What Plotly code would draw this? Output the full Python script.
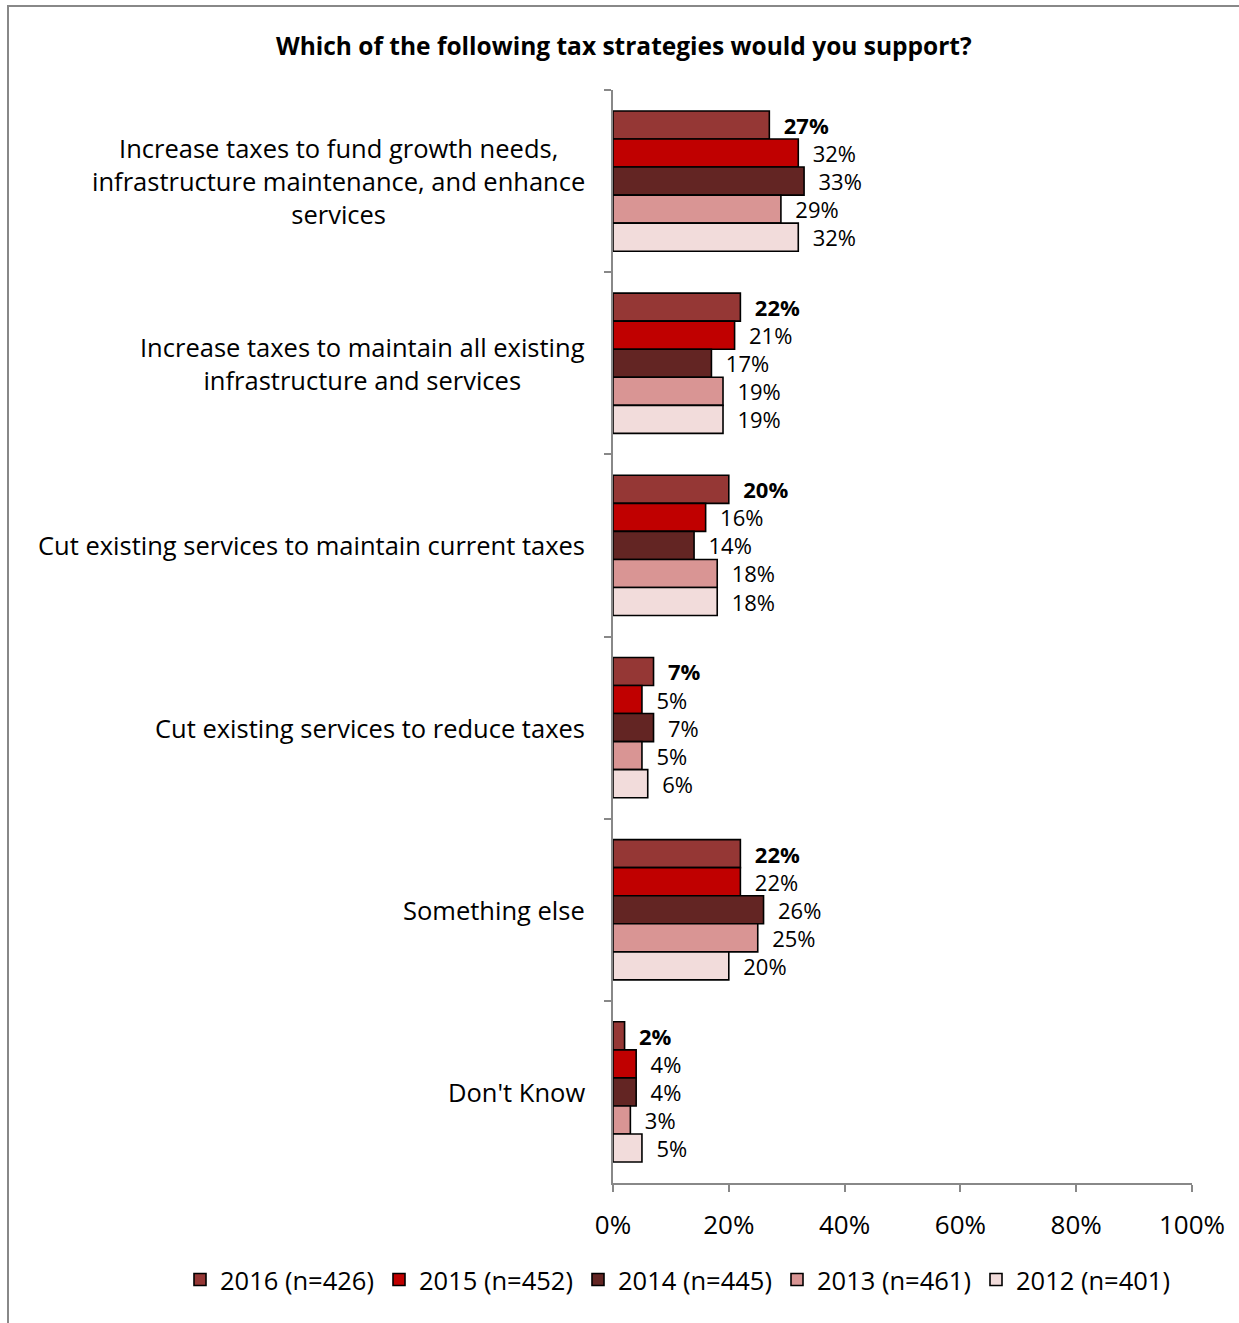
import plotly.graph_objects as go

# Survey categories (top to bottom) and their display labels
categories = [
    "fund_growth",
    "maintain_all",
    "cut_maintain",
    "cut_reduce",
    "something_else",
    "dont_know",
]
category_labels = [
    "Increase taxes to fund growth needs,<br>infrastructure maintenance, and enhance<br>services",
    "Increase taxes to maintain all existing<br>infrastructure and services",
    "Cut existing services to maintain current taxes",
    "Cut existing services to reduce taxes",
    "Something else",
    "Don't Know",
]

# Series names and percentages per survey year
series_names = ["2016 (n=426)", "2015 (n=452)", "2014 (n=445)", "2013 (n=461)", "2012 (n=401)"]
values_2016 = [27, 22, 20, 7, 22, 2]
values_2015 = [32, 21, 16, 5, 22, 4]
values_2014 = [33, 17, 14, 7, 26, 4]
values_2013 = [29, 19, 18, 5, 25, 3]
values_2012 = [32, 19, 18, 6, 20, 5]
series_values = [values_2016, values_2015, values_2014, values_2013, values_2012]
series_colors = ["#953735", "#C00000", "#632523", "#D99594", "#F2DCDB"]

FONT = "Open Sans"
W, H = 1239, 1323
L, R, T, B = 613, 1192, 90, 1183

fig = go.Figure()
for i, (name, vals, col) in enumerate(zip(series_names, series_values, series_colors)):
    if i == 0:
        labels = ["\u00a0\u00a0<b>%d%%</b>" % v for v in vals]
    else:
        labels = ["\u00a0\u00a0%d%%" % v for v in vals]
    fig.add_trace(go.Bar(
        y=categories,
        x=vals,
        name=name,
        orientation="h",
        marker=dict(color=col, line=dict(color="black", width=1.6)),
        text=labels,
        texttemplate="%{text}",
        textposition="outside",
        constraintext="none",
        textfont=dict(family=FONT, size=22, color="black"),
        cliponaxis=False,
    ))

# Category labels as centered multi-line annotations
for cat, lab in zip(categories, category_labels):
    fig.add_annotation(
        x=0, xref="paper", y=cat, yref="y",
        text=lab, showarrow=False,
        xanchor="right", yanchor="middle", align="center",
        xshift=-26,
        font=dict(family=FONT, size=25.5, color="black"),
    )

px = lambda x: (x - L) / (R - L)
py = lambda y: (B - y) / (B - T)

# Chart title
fig.add_annotation(
    x=px(624), xref="paper", y=py(45), yref="paper",
    text="<b>Which of the following tax strategies would you support?</b>",
    showarrow=False, xanchor="center", yanchor="middle",
    font=dict(family=FONT, size=24.5, color="black"),
)

# Outer frame lines (left and top)
fig.add_shape(type="line", xref="paper", yref="paper",
              x0=px(8), x1=px(8), y0=py(6), y1=py(1330),
              line=dict(color="#888888", width=2))
fig.add_shape(type="line", xref="paper", yref="paper",
              x0=px(7), x1=px(1245), y0=py(6), y1=py(6),
              line=dict(color="#888888", width=2))

fig.update_layout(
    width=W, height=H,
    margin=dict(l=L, r=W - R, t=T, b=H - B, pad=0, autoexpand=False),
    paper_bgcolor="white", plot_bgcolor="white",
    barmode="group", bargap=0.23, bargroupgap=0,
    font=dict(family=FONT, size=22, color="black"),
    showlegend=True,
    legend=dict(
        orientation="h", xref="paper", x=px(180), xanchor="left",
        yref="paper", y=py(1280), yanchor="middle",
        font=dict(family=FONT, size=25.5, color="black"),
        itemwidth=30, tracegroupgap=0,
        entrywidth=154, entrywidthmode="pixels",
        bgcolor="rgba(0,0,0,0)",
    ),
    xaxis=dict(
        range=[0, 100], tickvals=[0, 20, 40, 60, 80, 100],
        ticktext=["0%", "20%", "40%", "60%", "80%", "100%"],
        showgrid=False, zeroline=False,
        showline=True, linecolor="#888888", linewidth=2,
        ticks="outside", ticklen=7, tickcolor="#888888", tickwidth=2,
        ticklabelstandoff=11,
        tickfont=dict(family=FONT, size=26, color="black"),
        fixedrange=True,
    ),
    yaxis=dict(
        categoryorder="array", categoryarray=categories,
        autorange="reversed",
        showticklabels=False, showgrid=False, zeroline=False,
        showline=True, linecolor="#888888", linewidth=2,
        ticks="outside", ticklen=7, tickcolor="#888888", tickwidth=2,
        tickson="boundaries",
        fixedrange=True,
    ),
)

fig.write_html("out.html")
